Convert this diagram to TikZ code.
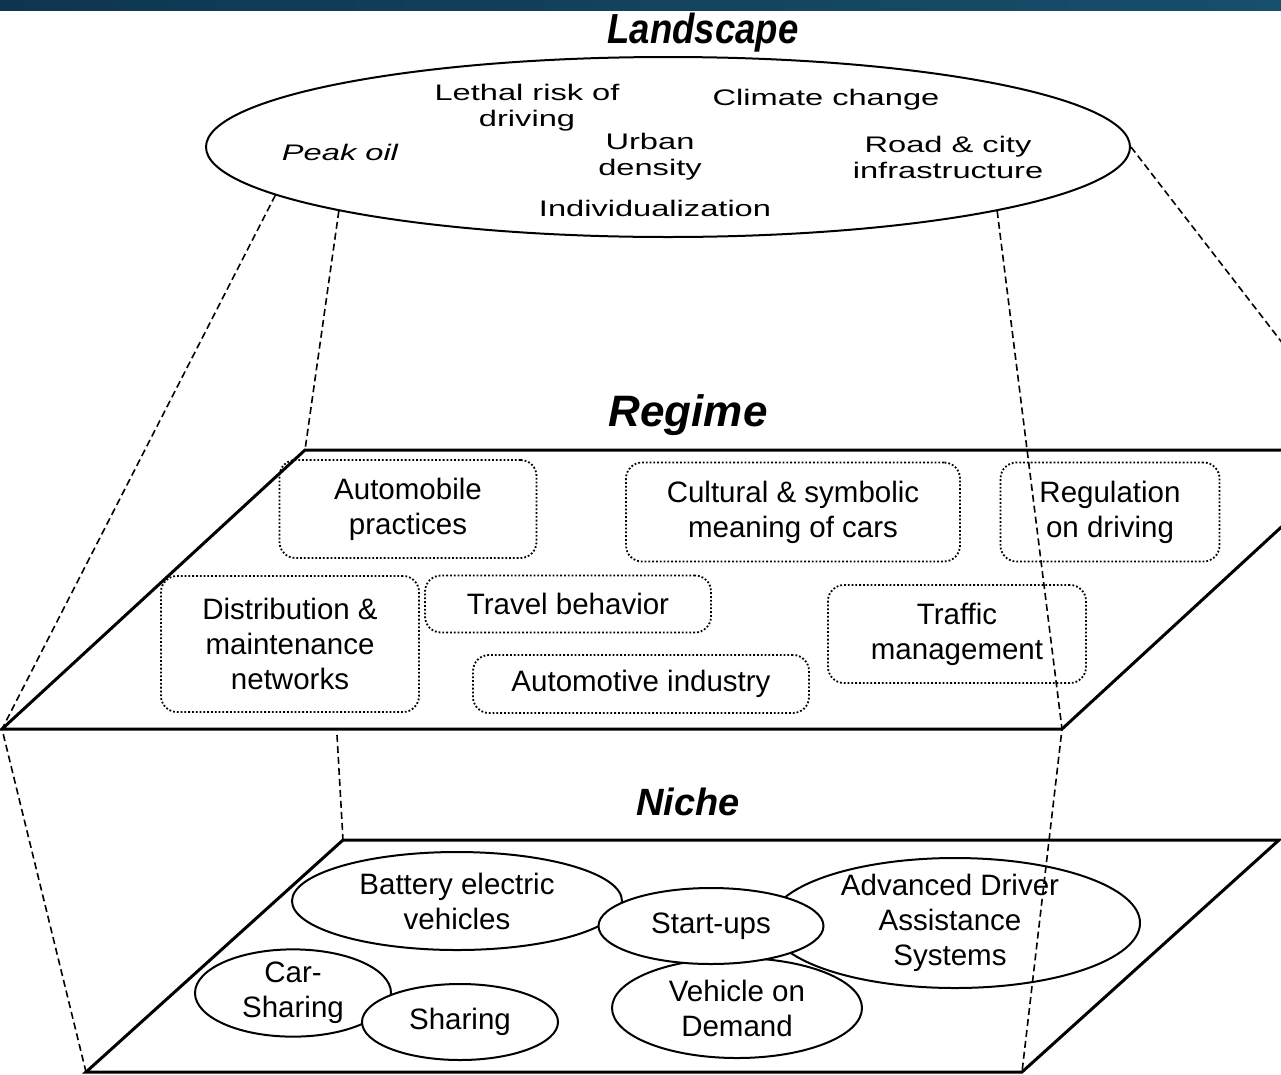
\documentclass[tikz,border=0pt]{standalone}
\usepackage{fontspec}
\setmainfont{Liberation Sans}
\newfontfamily\widefont[FakeStretch=1.45]{Liberation Sans}
\newfontfamily\narrowfont[FakeStretch=0.87]{Liberation Sans}
\usetikzlibrary{shapes.geometric,
                positioning,
                calc}

\definecolor{barleft}{HTML}{0E3550}
\definecolor{barright}{HTML}{17506B}

\tikzset{
  plane/.style={line width=3pt, line join=miter},
  proj/.style={line width=1.6pt, dash pattern=on 7pt off 4pt},
  layertitle/.style={font=\bfseries\itshape\fontsize{#1}{#1}\selectfont},
  landitem/.style={align=center, inner sep=0pt, font=\widefont\fontsize{22.5}{26}\selectfont},
  regbox/.style={draw, dotted, line width=1.8pt, rounded corners=16pt,
                 align=center, inner sep=0pt, font=\fontsize{29.5}{35}\selectfont},
  nichell/.style={ellipse, draw, fill=white, line width=2pt, align=center,
                  inner sep=0pt, font=\fontsize{29.5}{35}\selectfont}
}

\begin{document}
\begin{tikzpicture}[x=1pt, y=-1pt]
  \clip (0,0) rectangle (1281,1074);
  \fill[left color=barleft, right color=barright] (0,0) rectangle (1281,10);

  % landscape
  \node[font=\narrowfont\bfseries\itshape\fontsize{42}{42}\selectfont] (landtitle) at (703,33) {Landscape};
  \node[ellipse, draw, line width=2pt, inner sep=0pt,
        minimum width=924pt, minimum height=180pt] (land) at (668,147) {};
  \node[landitem] (lethal) at (527,108) {Lethal risk of\\driving};
  \node[landitem] (climate) at (826,100) {Climate change};
  \node[landitem, font=\widefont\itshape\fontsize{22.5}{26}\selectfont] (peak) at (340,152) {Peak oil};
  \node[landitem] (urban) at (650,157) {Urban\\density};
  \node[landitem] (road) at (948,157) {Road \& city\\infrastructure};
  \node[landitem] (indiv) at (655,208) {Individualization};

  % regime
  \coordinate (rA) at (2,729);
  \coordinate (rB) at (1062,729);
  \coordinate (rC) at (1365,450);
  \coordinate (rD) at (305,450);
  \draw[plane] (rA) -- (rB) -- (rC) -- (rD) -- cycle;
  \node[layertitle=44] (regtitle) at (688,415) {Regime};

  \node[regbox, minimum width=257pt, minimum height=98pt] (practices) at (408,509) {Automobile\\practices};
  \node[regbox, minimum width=334pt, minimum height=99pt] (cultural) at (793,512) {Cultural \& symbolic\\meaning of cars};
  \node[regbox, minimum width=219pt, minimum height=99pt] (regulation) at (1110,512) {Regulation\\on driving};
  \node[regbox, minimum width=258pt, minimum height=136pt] (distrib) at (290,644) {Distribution \&\\maintenance\\networks};
  \node[regbox, minimum width=286pt, minimum height=57pt] (travel) at (568,604) {Travel behavior};
  \node[regbox, minimum width=336pt, minimum height=58pt] (industry) at (641,684) {Automotive industry};
  \node[regbox, minimum width=258pt, minimum height=98pt] (traffic) at (957,634) {Traffic\\management};

  % niche
  \coordinate (nA) at (86,1072);
  \coordinate (nB) at (1022,1072);
  \coordinate (nC) at (1279,840);
  \coordinate (nD) at (343,840);
  \draw[plane] (nA) -- (nB) -- (nC) -- (nD) -- cycle;
  \node[layertitle=38] (nichetitle) at (688,802) {Niche};

  \node[nichell, minimum width=330pt, minimum height=98pt] (bev) at (457,901) {Battery electric\\vehicles};
  \node[nichell, minimum width=370pt, minimum height=130pt] (adas) at (955,923) {};
  \node[align=center, inner sep=0pt, font=\fontsize{29.5}{35}\selectfont] (adastext) at (950,923) {Advanced Driver\\Assistance\\Systems};
  \node[nichell, minimum width=250pt, minimum height=100pt] (vod) at (737,1008) {Vehicle on\\Demand};
  \node[nichell, minimum width=196pt, minimum height=84pt] (carsharing) at (293,993) {Car-\\Sharing};
  \node[nichell, minimum width=196pt, minimum height=76pt] (sharing) at (460,1022) {Sharing};
  \node[nichell, minimum width=225pt, minimum height=76pt] (startups) at (711,926) {Start-ups};

  % projections between the layers
  \coordinate (rDfoot) at (337,735);
  \draw[proj] (land.187) -- (rA) -- (nA);
  \draw[proj] (land.191) -- (rD);
  \draw[proj] (rDfoot) -- (nD);
  \draw[proj] (land.0) -- (rC);
  \draw[proj] (land.-11.5) -- (rB) -- (nB);
\end{tikzpicture}
\end{document}
